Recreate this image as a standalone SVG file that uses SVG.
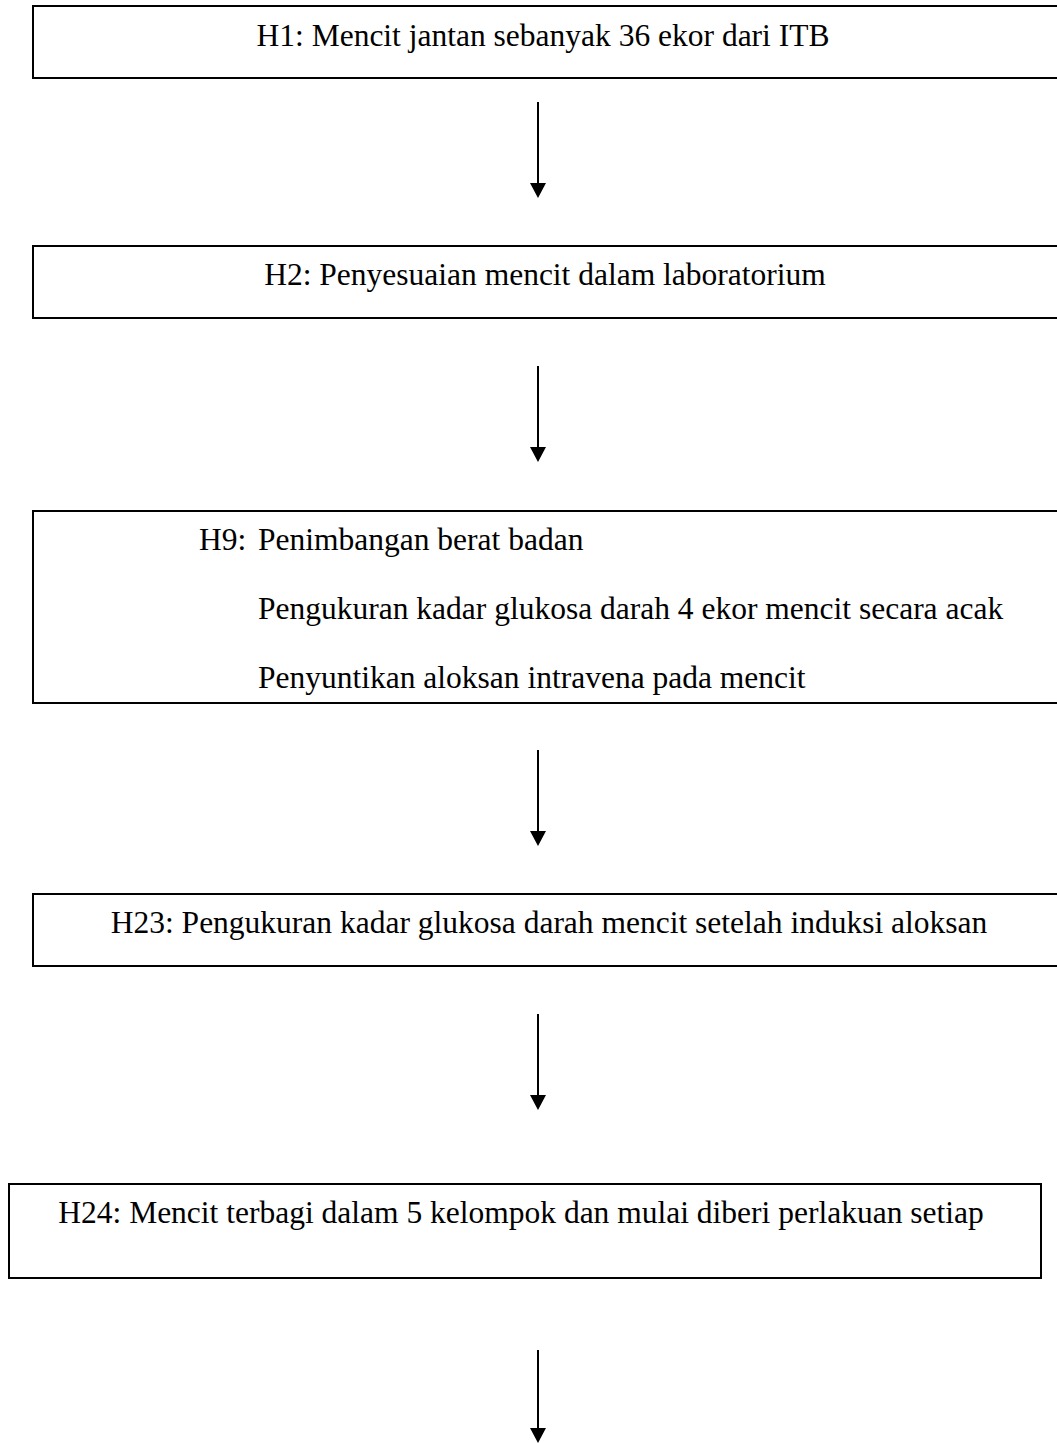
<svg xmlns="http://www.w3.org/2000/svg" width="1057" height="1443" viewBox="0 0 1057 1443">
<style>
.box{fill:#fff;stroke:#000;stroke-width:2}
.t{font-family:"Liberation Serif","Times New Roman",serif;font-size:31.5px;fill:#000}
.c{text-anchor:middle}
.arr{stroke:#000;stroke-width:2;fill:none}
</style>
<defs>
<marker id="ah" viewBox="0 0 15 16" refX="0" refY="8" markerWidth="15" markerHeight="16" markerUnits="userSpaceOnUse" orient="auto">
<path d="M0,0 L15,8 L0,16 z" fill="#000"/>
</marker>
</defs>
<rect width="1057" height="1443" fill="#fff"/>
<g id="n1"><rect class="box" x="33" y="6" width="1040" height="72"/><text class="t c" x="543" y="46">H1: Mencit jantan sebanyak 36 ekor dari ITB</text></g>
<g id="n2"><rect class="box" x="33" y="246" width="1040" height="72"/><text class="t c" x="545" y="285">H2: Penyesuaian mencit dalam laboratorium</text></g>
<g id="n3"><rect class="box" x="33" y="511" width="1040" height="192"/>
<text class="t" x="199" y="550">H9:</text>
<text class="t" x="258" y="550">Penimbangan berat badan</text>
<text class="t" x="258" y="619">Pengukuran kadar glukosa darah 4 ekor mencit secara acak</text>
<text class="t" x="258" y="688">Penyuntikan aloksan intravena pada mencit</text></g>
<g id="n4"><rect class="box" x="33" y="894" width="1040" height="72"/><text class="t c" x="549" y="933">H23: Pengukuran kadar glukosa darah mencit setelah induksi aloksan</text></g>
<g id="n5"><rect class="box" x="9" y="1184" width="1032" height="94"/><text class="t c" x="521" y="1223">H24: Mencit terbagi dalam 5 kelompok dan mulai diberi perlakuan setiap</text></g>
<g id="connectors">
<line class="arr" x1="538" y1="102" x2="538" y2="183" marker-end="url(#ah)"/>
<line class="arr" x1="538" y1="366" x2="538" y2="447" marker-end="url(#ah)"/>
<line class="arr" x1="538" y1="750" x2="538" y2="831" marker-end="url(#ah)"/>
<line class="arr" x1="538" y1="1014" x2="538" y2="1095" marker-end="url(#ah)"/>
<line class="arr" x1="538" y1="1350" x2="538" y2="1428" marker-end="url(#ah)"/>
</g>
</svg>
